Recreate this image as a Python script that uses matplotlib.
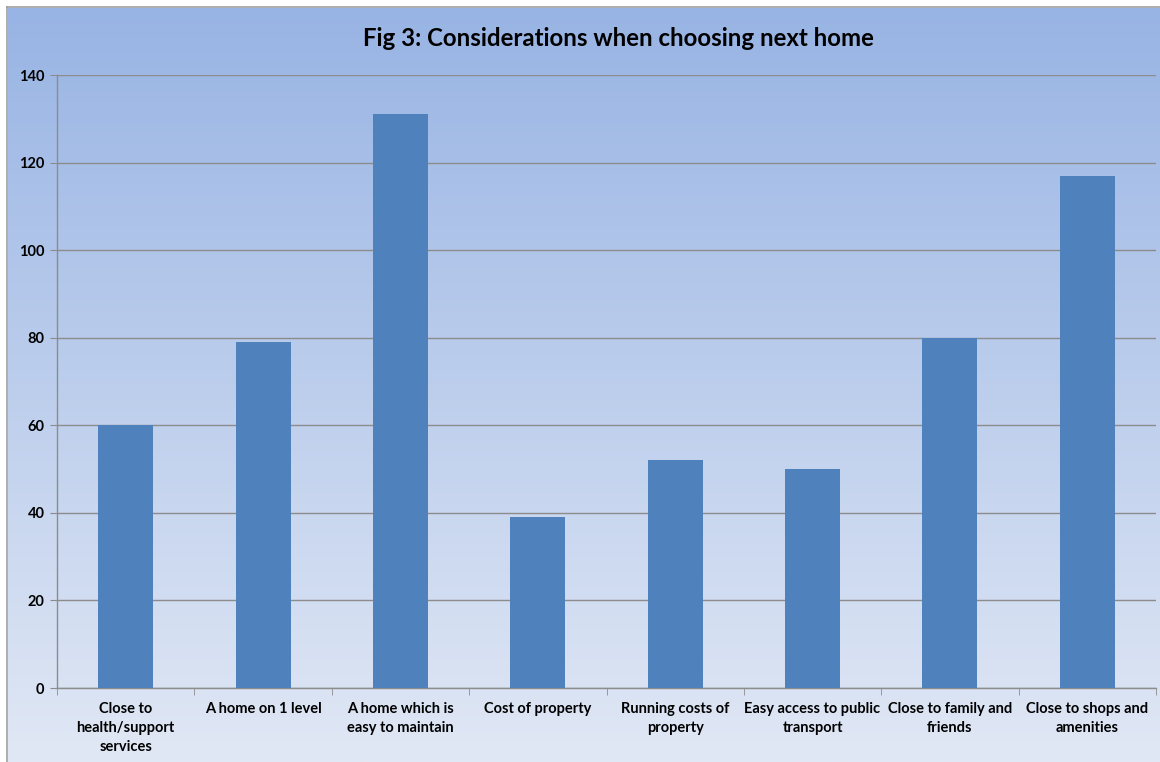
"""Fig 3: Considerations when choosing next home."""

import matplotlib
matplotlib.use("Agg")
import matplotlib.pyplot as plt
import numpy as np
from matplotlib.colors import LinearSegmentedColormap
from matplotlib.lines import Line2D

categories = [
    "Close to\nhealth/support\nservices",
    "A home on 1 level",
    "A home which is\neasy to maintain",
    "Cost of property",
    "Running costs of\nproperty",
    "Easy access to public\ntransport",
    "Close to family and\nfriends",
    "Close to shops and\namenities",
]
counts = [60, 79, 131, 39, 52, 50, 80, 117]
y_ticks = [0, 20, 40, 60, 80, 100, 120, 140]

BAR = "#4f81bd"
GRID = "#8c8c8c"
FONT = ["Lato", "DejaVu Sans"]

W, H = 1160, 762
fig = plt.figure(figsize=(W / 100, H / 100), dpi=100)
fig.patch.set_facecolor("white")

# gradient background of the chart area
bg = fig.add_axes([8 / W, 0, 1 - 8 / W, 1 - 8 / H])
grad = LinearSegmentedColormap.from_list("bg", ["#e1e8f5", "#98b4e4"])
bg.imshow(np.linspace(0, 1, 256).reshape(-1, 1), cmap=grad, aspect="auto",
          origin="lower", extent=[0, 1, 0, 1])
bg.set_axis_off()
fig.add_artist(Line2D([7 / W, 7 / W], [0, 1 - 7 / H], color="#a0a0a0", lw=1.2))
fig.add_artist(Line2D([7 / W, 1], [1 - 7 / H, 1 - 7 / H], color="#a0a0a0", lw=1.2))

ax = fig.add_axes([57 / W, 1 - 688 / H, (1156 - 57) / W, (688 - 75) / H])
ax.patch.set_alpha(0)
x = np.arange(len(categories))
ax.bar(x, counts, width=0.4, color=BAR, zorder=3)

ax.set_xlim(-0.5, len(categories) - 0.5)
ax.set_ylim(0, 140)
ax.set_yticks(y_ticks)
ax.set_yticklabels([str(v) for v in y_ticks], fontsize=10.5, fontweight="bold",
                   family=FONT)
ax.yaxis.grid(True, color=GRID, lw=1, zorder=0)
ax.set_axisbelow(True)

ax.set_xticks(x)
ax.set_xticklabels(categories, fontsize=10.5, fontweight="bold", family=FONT,
                   linespacing=1.45)
ax.tick_params(axis="x", length=0, pad=10)
ax.set_xticks(np.arange(len(categories) + 1) - 0.5, minor=True)
ax.tick_params(axis="x", which="minor", length=5, color=GRID)
ax.tick_params(axis="y", length=5, color=GRID, pad=4)

for side in ("top", "right"):
    ax.spines[side].set_visible(False)
for side in ("left", "bottom"):
    ax.spines[side].set_color(GRID)
    ax.spines[side].set_linewidth(1)

fig.text(618 / W, 1 - 38 / H, "Fig 3: Considerations when choosing next home",
         ha="center", va="center", fontsize=17.3, fontweight="bold", family=FONT)

fig.savefig("out.png", dpi=100)
